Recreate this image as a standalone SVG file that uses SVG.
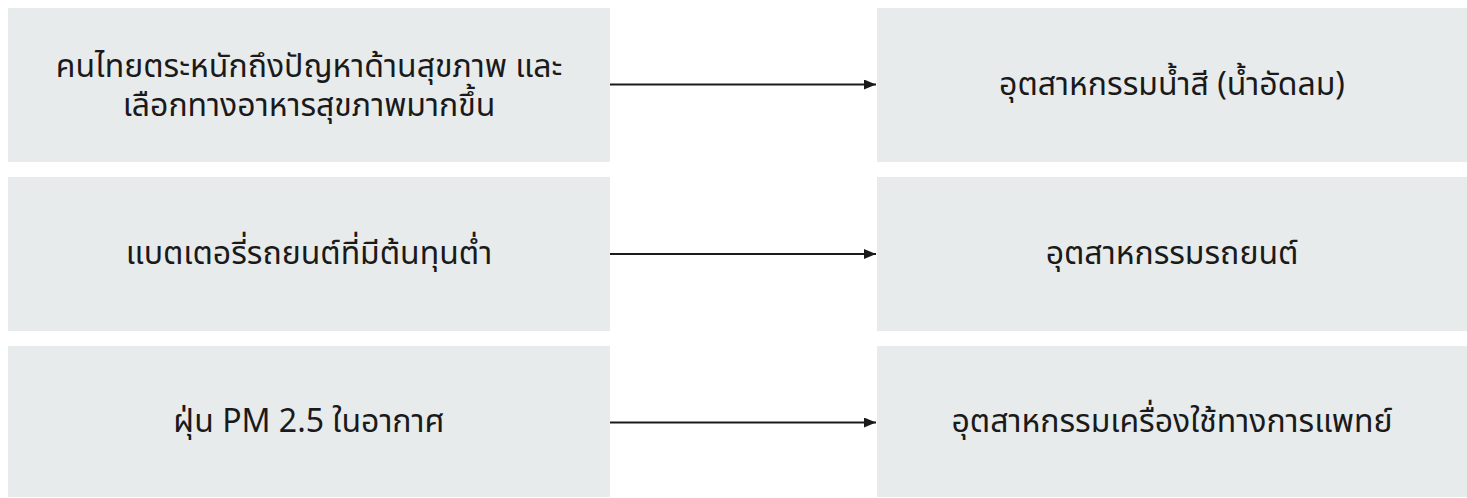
<svg xmlns="http://www.w3.org/2000/svg" width="1467" height="498" viewBox="0 0 1467 498">
<style>
.box{fill:#e8ebec;}
.t{font-family:"Noto Sans Thai","Noto Sans","DejaVu Sans",sans-serif;font-size:32px;fill:#1a1a1a;text-anchor:middle;dominant-baseline:central;}
.c{stroke:#1a1a1a;stroke-width:2;fill:none;}
</style>
<defs>
<marker id="ah" markerWidth="12" markerHeight="10" refX="12" refY="5" orient="auto" markerUnits="userSpaceOnUse">
<path d="M0,0 L12,5 L0,10 Z" fill="#1a1a1a"/>
</marker>
</defs>
<g id="n1"><rect class="box" x="8" y="8" width="602" height="154"/>
<text class="t" x="309" y="68"><tspan x="309" y="67">คนไทยตระหนักถึงปัญหาด้านสุขภาพ และ</tspan><tspan x="309" y="106">เลือกทางอาหารสุขภาพมากขึ้น</tspan></text></g>
<g id="n2"><rect class="box" x="877" y="8" width="590" height="154"/>
<text class="t" x="1172" y="85">อุตสาหกรรมน้ำสี (น้ำอัดลม)</text></g>
<g id="n3"><rect class="box" x="8" y="177" width="602" height="154"/>
<text class="t" x="309" y="254">แบตเตอรี่รถยนต์ที่มีต้นทุนต่ำ</text></g>
<g id="n4"><rect class="box" x="877" y="177" width="590" height="154"/>
<text class="t" x="1172" y="254">อุตสาหกรรมรถยนต์</text></g>
<g id="n5"><rect class="box" x="8" y="346" width="602" height="151"/>
<text class="t" x="309" y="422">ฝุ่น PM 2.5 ในอากาศ</text></g>
<g id="n6"><rect class="box" x="877" y="346" width="590" height="151"/>
<text class="t" x="1172" y="422">อุตสาหกรรมเครื่องใช้ทางการแพทย์</text></g>
<g id="connectors">
<line class="c" x1="610" y1="84.5" x2="876" y2="84.5" marker-end="url(#ah)"/>
<line class="c" x1="610" y1="254" x2="876" y2="254" marker-end="url(#ah)"/>
<line class="c" x1="610" y1="422.5" x2="876" y2="422.5" marker-end="url(#ah)"/>
</g>
</svg>
